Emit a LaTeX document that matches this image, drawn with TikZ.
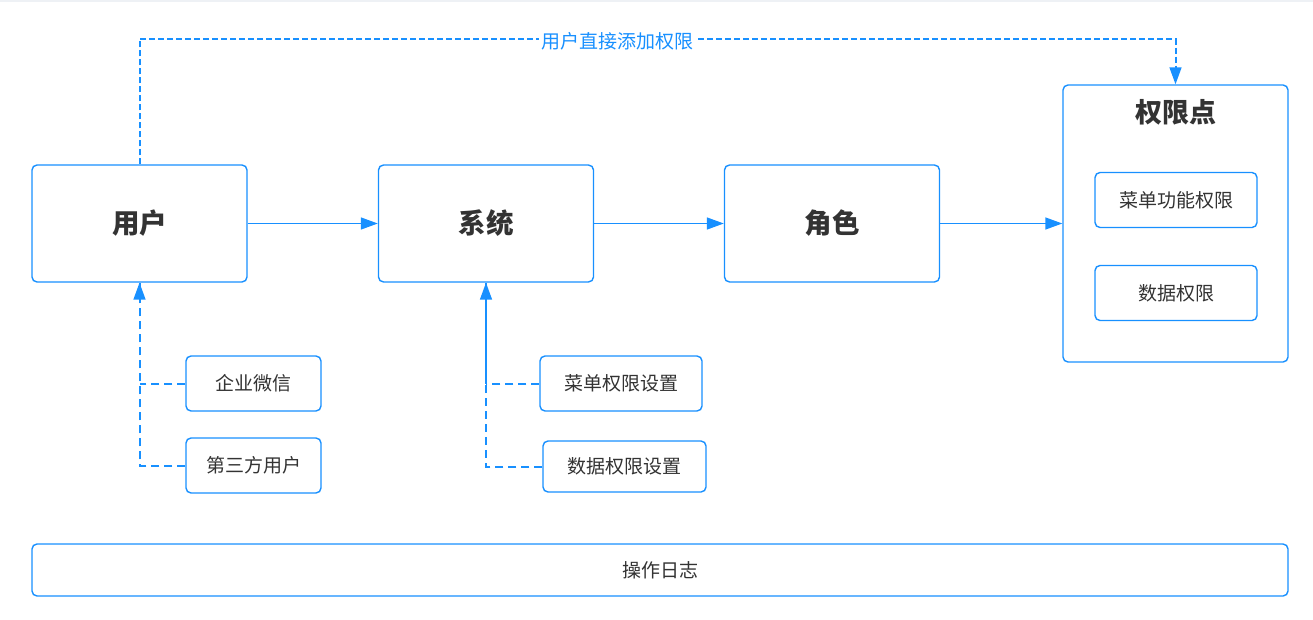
\documentclass[tikz,border=0pt]{standalone}
\usepackage{fontspec}
\setmainfont{Noto Sans CJK SC}
\usetikzlibrary{arrows.meta}
\definecolor{ablue}{HTML}{1890FF}
\definecolor{txt}{HTML}{333333}
\definecolor{topbar}{HTML}{EEF1F5}
\tikzset{
  mainbox/.style={draw=ablue, line width=1.4pt, rounded corners=5pt, fill=white,
    minimum width=215pt, minimum height=117pt, text=txt, font=\fontsize{27.5}{32}\selectfont\bfseries},
  subbox/.style={draw=ablue, line width=1.4pt, rounded corners=5pt, fill=white,
    minimum height=55pt, text=txt, font=\fontsize{19}{23}\selectfont},
  flow/.style={draw=ablue, line width=1.4pt, -{Triangle[length=17pt,width=12pt]}},
  longdash/.style={draw=ablue, line width=2pt, dash pattern=on 8pt off 5pt},
  shortdash/.style={draw=ablue, line width=2pt, dash pattern=on 6pt off 3pt},
  tip/.style={-{Triangle[length=17pt,width=12pt]}}
}
\begin{document}
\begin{tikzpicture}[x=1pt,y=-1pt]
\useasboundingbox (0,0) rectangle (1313,620);
\fill[topbar] (0,0) rectangle (1313,2.5);

\node[mainbox] (user) at (139.5,223.5) {用户};
\node[mainbox] (sys) at (486,223.5) {系统};
\node[mainbox] (role) at (832,223.5) {角色};
\node[draw=ablue, line width=1.4pt, rounded corners=5pt, minimum width=225pt, minimum height=277pt] (perm) at (1175.5,223.5) {};
\node[text=txt, font=\fontsize{27}{32}\selectfont\bfseries] (permtitle) at (1175.5,112) {权限点};
\node[subbox, minimum width=162pt] (menuperm) at (1176,200) {菜单功能权限};
\node[subbox, minimum width=162pt] (dataperm) at (1176,293) {数据权限};

\node[subbox, minimum width=135pt] (wx) at (253.5,383.5) {企业微信};
\node[subbox, minimum width=135pt] (third) at (253.5,465.5) {第三方用户};
\node[subbox, minimum width=162pt] (menuset) at (621,383.5) {菜单权限设置};
\node[subbox, minimum width=163pt, minimum height=51pt] (dataset) at (624.5,466.5) {数据权限设置};

\node[subbox, minimum width=1256pt, minimum height=52pt] (log) at (660,570) {操作日志};

\draw[flow] (user.east) -- (sys.west);
\draw[flow] (sys.east) -- (role.west);
\draw[flow] (role.east) -- (perm.west);

\draw[longdash] (wx.west) -- (user.south |- wx.west);
\draw[longdash] (third.west) -- (user.south |- third.west) -- (user.south);
\draw[ablue, line width=1.5pt, tip] (user.south |- 0,290) -- (user.south);

\draw[longdash] (menuset.west) -- (sys.south |- menuset.west);
\draw[longdash] (dataset.west) -- (sys.south |- dataset.west) -- (sys.south);
\draw[ablue, line width=1.5pt] (sys.south |- menuset.west) -- (sys.south |- 0,295);
\draw[ablue, line width=1.5pt, tip] (sys.south |- 0,295) -- (sys.south);

\coordinate (tl) at (139.5,39);
\coordinate (tr) at (1175.5,39);
\draw[shortdash] (user.north) -- (tl) -- (tr) -- (1175.5,70);
\draw[ablue, line width=1.5pt, tip] (1175.5,68) -- (perm.north);
\node[fill=white, text=ablue, font=\fontsize{19}{22}\selectfont, inner sep=2pt] (toplabel) at (617,41) {用户直接添加权限};
\end{tikzpicture}
\end{document}
